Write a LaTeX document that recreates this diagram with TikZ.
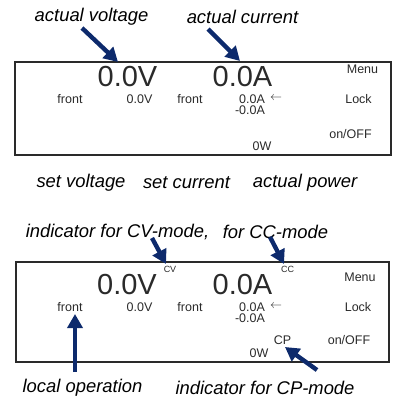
\documentclass[tikz,border=0pt]{standalone}
\usepackage{fontspec}
\setmainfont{Liberation Sans}
\usetikzlibrary{arrows.meta}
\definecolor{navy}{HTML}{0D2A6C}
\definecolor{txt}{HTML}{2A2A2A}
\tikzset{
  lbl/.style={font=\fontsize{18.4}{20}\selectfont\itshape, text=black, inner sep=0pt, anchor=center},
  big/.style={font=\fontsize{29}{30}\selectfont, text=txt, inner sep=0pt, anchor=center},
  small/.style={font=\fontsize{12.5}{13}\selectfont, text=txt, inner sep=0pt, anchor=center},
  tiny/.style={font=\fontsize{9}{10}\selectfont, text=txt, inner sep=0pt, anchor=center},
  panel/.style={draw=txt, line width=1.6pt},
  ptr/.style={draw=navy, line width=4.4pt, -{Triangle[length=14pt,width=15pt]}},
}
\begin{document}
\begin{tikzpicture}[x=1pt,y=-1pt]
\useasboundingbox (0,0) rectangle (393,401);
% ---------- top panel ----------
\node[panel, minimum width=376pt, minimum height=93pt, anchor=north west, inner sep=0pt] (box1) at (14,61) {};
\node[lbl] (av) at (91.5,17) {actual voltage};
\node[lbl] (ac) at (242.5,17) {actual current};
\node[big] (v1) at (127.5,77) {0.0V};
\node[big] (a1) at (242.5,77) {0.0A};
\node[small] (menu1) at (362.5,69) {Menu};
\node[small] (lock1) at (358.5,99) {Lock};
\node[small] (onoff1) at (350.5,134) {on/OFF};
\node[small] (f1a) at (70,99) {front};
\node[small] (sv1) at (139.5,99) {0.0V};
\node[small] (f1b) at (190,99) {front};
\node[small, anchor=west] (sa1) at (239,99) {0.0A};
\node[small, anchor=west] (arr1) at (270,98) {$\leftarrow$};
\node[small] (na1) at (250,110) {-0.0A};
\node[small] (w1) at (262,146) {0W};
\node[lbl] (setv) at (81,183) {set voltage};
\node[lbl] (setc) at (186.5,183) {set current};
\node[lbl] (actp) at (305,183) {actual power};
\coordinate (p1s) at (82,28);
\coordinate (p1e) at (118,62);
\coordinate (p2s) at (208,29);
\coordinate (p2e) at (240,61);
\draw[ptr] (p1s) -- (p1e);
\draw[ptr] (p2s) -- (p2e);
% ---------- bottom panel ----------
\node[panel, minimum width=373pt, minimum height=100pt, anchor=north west, inner sep=0pt] (box2) at (15,261) {};
\node[lbl] (icv) at (117.5,232) {indicator for CV-mode,};
\node[lbl] (icc) at (275.5,232) {for CC-mode};
\node[tiny] (cv) at (170,269) {CV};
\node[tiny] (cc) at (287.5,269) {CC};
\node[big] (v2) at (127,284.5) {0.0V};
\node[big] (a2) at (242.5,284.5) {0.0A};
\node[small] (menu2) at (360,277) {Menu};
\node[small] (lock2) at (358,307) {Lock};
\node[small] (onoff2) at (349,340) {on/OFF};
\node[small] (f2a) at (70,307) {front};
\node[small] (sv2) at (139.5,307) {0.0V};
\node[small] (f2b) at (190,307) {front};
\node[small, anchor=west] (sa2) at (239,307) {0.0A};
\node[small, anchor=west] (arr2) at (270,306) {$\leftarrow$};
\node[small] (na2) at (250,318) {-0.0A};
\node[small] (cp) at (282.5,340) {CP};
\node[small] (w2) at (259,353) {0W};
\node[lbl] (loc) at (82.5,388) {local operation};
\node[lbl] (icp) at (265,388) {indicator for CP-mode};
\coordinate (q1s) at (152,238);
\coordinate (q1e) at (166,264);
\coordinate (q2s) at (270,237);
\coordinate (q2e) at (284,264);
\coordinate (q3s) at (75,372);
\coordinate (q3e) at (75,314);
\coordinate (q4s) at (317,370);
\coordinate (q4e) at (285,347);
\draw[ptr] (q1s) -- (q1e);
\draw[ptr] (q2s) -- (q2e);
\draw[ptr] (q3s) -- (q3e);
\draw[ptr] (q4s) -- (q4e);
\end{tikzpicture}
\end{document}
